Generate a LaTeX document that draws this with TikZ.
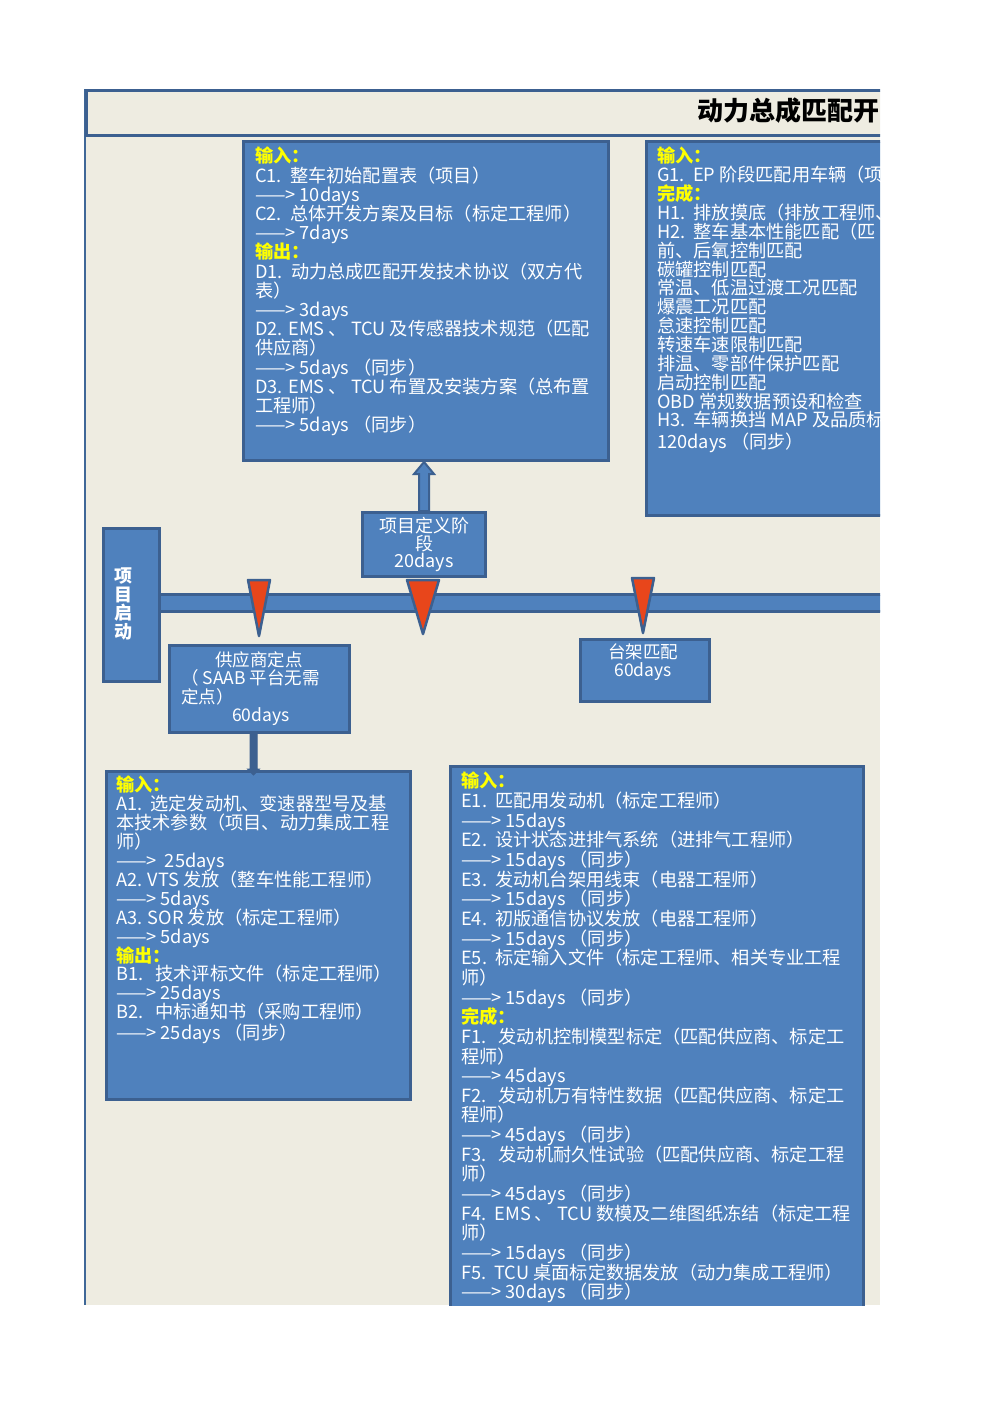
\documentclass[tikz,border=0pt]{standalone}
\usepackage{fontspec}
\setmainfont{Noto Sans CJK SC}
\definecolor{bg}{HTML}{EEECE1}
\definecolor{boxfill}{HTML}{4F81BD}
\definecolor{boxline}{HTML}{3C6090}
\definecolor{mark}{HTML}{E8461B}
\definecolor{yel}{HTML}{FFFF00}
\newcommand\hd[1]{{\color{yel}\bfseries #1}}
\newcommand\fsz[2]{\fontsize{#1}{#2}\selectfont\lineskiplimit=-40pt\relax}
\tikzset{
  panel/.style={draw=boxline, line width=3pt, fill=boxfill, inner sep=0pt, anchor=north west},
  titlebar/.style={draw=boxline, line width=3pt, fill=bg, inner sep=0pt, anchor=north west},
  body/.style={anchor=north west, inner sep=0pt, text=white, align=left},
  smalltext/.style={inner sep=0pt, text=white, font=\fsz{17.5}{18.3}},
  marker/.style={fill=mark, draw=boxline, line width=2.5pt, line join=round},
  blockarr/.style={fill=boxfill, draw=boxline, line width=2pt, line join=miter},
  connarr/.style={fill=boxline, draw=boxline, line width=1pt}
}
\begin{document}
\begin{tikzpicture}[x=1pt,y=-1pt]
\useasboundingbox (0,0) rectangle (992,1403);
\fill[white] (0,0) rectangle (992,1403);
\begin{scope}
\clip (0,0) rectangle (880,1305);
\fill[bg] (85,89) rectangle (880,1305);
\draw[boxfill!80!black, line width=2pt] (85,89) -- (85,1305);
% title bar
\node[titlebar, minimum width=830pt, minimum height=45pt] (tbar) at (85,89) {};
\node[anchor=west, inner sep=0pt, font=\fontsize{26}{26}\selectfont\bfseries] (title) at (697,111) {动力总成匹配开};
% boxes
\node[panel, minimum width=365pt, minimum height=319pt] (C) at (242,140) {};
\node[panel, minimum width=270pt, minimum height=374pt] (G) at (645,140) {};
\node[panel, minimum width=757pt, minimum height=17pt] (bar) at (157,593) {};
\node[panel, minimum width=56pt, minimum height=153pt] (start) at (102,527) {};
\node[panel, minimum width=123pt, minimum height=64pt, text=white, align=center, font=\fsz{18}{17.6}] (def) at (361,511) {项目定义阶\\段\\20days};
\node[panel, minimum width=180pt, minimum height=87pt] (sup) at (168,644) {};
\node[panel, minimum width=129pt, minimum height=62pt] (rig) at (579,638) {};
\node[panel, minimum width=304pt, minimum height=328pt] (A) at (105,770) {};
\node[panel, minimum width=413pt, minimum height=570pt] (E) at (449,765) {};
% markers
\filldraw[marker] (248,580) -- (270,580) -- (259,636) -- cycle;
\filldraw[marker] (407,580) -- (439,580) -- (423,634) -- cycle;
\filldraw[marker] (632,578) -- (654,578) -- (643,633) -- cycle;
% connectors
\coordinate (t1) at (def.north |- C.south);
\filldraw[blockarr] ([xshift=-5pt]def.north) -- ([xshift=-5pt,yshift=-12pt]t1) -- ([xshift=-10pt,yshift=-12pt]t1) -- (t1) -- ([xshift=10pt,yshift=-12pt]t1) -- ([xshift=5pt,yshift=-12pt]t1) -- ([xshift=5pt]def.north) -- cycle;
\coordinate (s2) at ([xshift=-6pt]sup.south);
\coordinate (t2) at ([yshift=-5pt]s2 |- A.north);
\filldraw[connarr] ([xshift=-3.5pt]s2) -- ([xshift=-3.5pt,yshift=6pt]t2) -- ([xshift=-6pt,yshift=6pt]t2) -- (t2) -- ([xshift=6pt,yshift=6pt]t2) -- ([xshift=3.5pt,yshift=6pt]t2) -- ([xshift=3.5pt]s2) -- cycle;
% small texts
\node[inner sep=0pt, text=white, align=center, font=\fsz{18}{18.5}\bfseries] (startt) at (123,604) {项\\目\\启\\动};
\node[smalltext, anchor=west, align=left] (supt) at (181,688.5) {\hspace*{34pt}供应商定点\\（ SAAB 平台无需\\定点）\\\hspace*{51pt}60days};
\node[smalltext, align=center] (rigt) at (643,662) {台架匹配\\60days};
% body texts
\node[body, font=\fsz{18.2}{19.2}] (Ct) at (255,147) {\hd{输入：}\\
C1.\ \ 整车初始配置表（项目）\\
——> 10days\\
C2.\ \ 总体开发方案及目标（标定工程师）\\
——> 7days\\
\hd{输出：}\\
D1.\ \ 动力总成匹配开发技术协议（双方代\\
表）\\
——> 3days\\
D2. EMS 、 TCU 及传感器技术规范（匹配\\
供应商）\\
——> 5days （同步）\\
D3. EMS 、 TCU 布置及安装方案（总布置\\
工程师）\\
——> 5days （同步）};
\node[body, font=\fsz{18.2}{18.86}] (Gt) at (657,147) {\hd{输入：}\\
G1.\ \ EP 阶段匹配用车辆（项\\
\hd{完成：}\\
H1.\ \ 排放摸底（排放工程师、\\
H2.\ \ 整车基本性能匹配（匹\\
前、后氧控制匹配\\
碳罐控制匹配\\
常温、低温过渡工况匹配\\
爆震工况匹配\\
怠速控制匹配\\
转速车速限制匹配\\
排温、零部件保护匹配\\
启动控制匹配\\
OBD 常规数据预设和检查\\
H3.\ \ 车辆换挡 MAP 及品质标\\[3pt]
120days （同步）};
\node[body, font=\fsz{18.2}{18.9}] (At) at (116,776) {\hd{输入：}\\
A1.\ \ 选定发动机、变速器型号及基\\
本技术参数（项目、动力集成工程\\
师）\\
——>\ \ 25days\\
A2. VTS 发放（整车性能工程师）\\
——> 5days\\
A3. SOR 发放（标定工程师）\\
——> 5days\\
\hd{输出：}\\
B1.\ \ \ 技术评标文件（标定工程师）\\
——> 25days\\
B2.\ \ \ 中标通知书（采购工程师）\\[2pt]
——> 25days （同步）};
\node[body, font=\fsz{18.2}{19.65}] (Et) at (461,772) {\hd{输入：}\\
E1.\ \ 匹配用发动机（标定工程师）\\
——> 15days\\
E2.\ \ 设计状态进排气系统（进排气工程师）\\
——> 15days （同步）\\
E3.\ \ 发动机台架用线束（电器工程师）\\
——> 15days （同步）\\
E4.\ \ 初版通信协议发放（电器工程师）\\
——> 15days （同步）\\
E5.\ \ 标定输入文件（标定工程师、相关专业工程\\
师）\\
——> 15days （同步）\\
\hd{完成：}\\
F1.\ \ \ 发动机控制模型标定（匹配供应商、标定工\\
程师）\\
——> 45days\\
F2.\ \ \ 发动机万有特性数据（匹配供应商、标定工\\
程师）\\
——> 45days （同步）\\
F3.\ \ \ 发动机耐久性试验（匹配供应商、标定工程\\
师）\\
——> 45days （同步）\\
F4.\ \ EMS 、 TCU 数模及二维图纸冻结（标定工程\\
师）\\
——> 15days （同步）\\
F5.\ \ TCU 桌面标定数据发放（动力集成工程师）\\
——> 30days （同步）};
\end{scope}
\end{tikzpicture}
\end{document}
